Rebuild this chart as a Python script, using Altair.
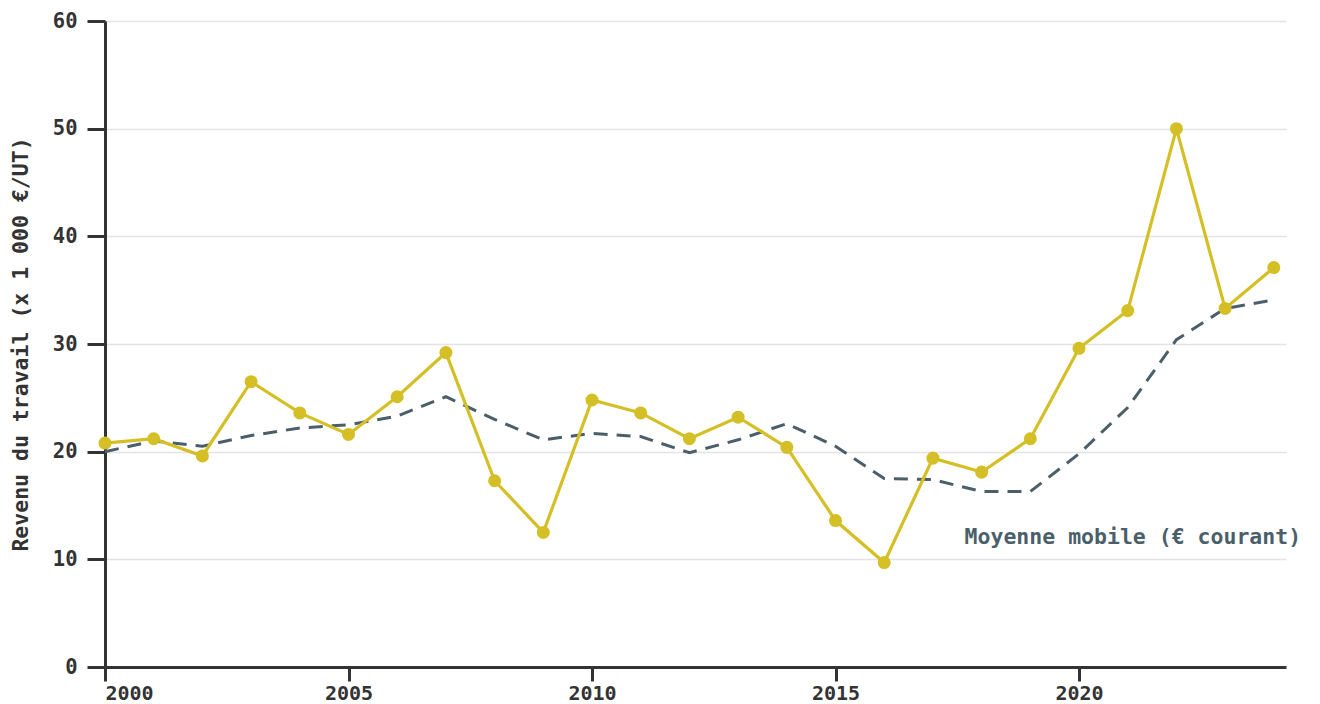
import altair as alt
import pandas as pd

years = list(range(2000, 2025))
revenu = [20.8, 21.2, 19.6, 26.5, 23.6, 21.6, 25.1, 29.2, 17.3, 12.5,
          24.8, 23.6, 21.2, 23.2, 20.4, 13.6, 9.7, 19.4, 18.1, 21.2,
          29.6, 33.1, 50.0, 33.3, 37.1]
moyenne = [20.0, 21.0, 20.5, 21.5, 22.2, 22.5, 23.3, 25.1, 23.0, 21.1,
           21.7, 21.4, 19.9, 21.1, 22.6, 20.5, 17.5, 17.4, 16.3, 16.3,
           19.8, 24.1, 30.4, 33.3, 34.1]
label_text = ["Moyenne mobile (€ courant)"]
label_x = [2017.65]
label_y = [12.0]

df = pd.DataFrame({"annee": years, "revenu": revenu, "moyenne": moyenne})
lab = pd.DataFrame({"t": label_text, "x": label_x, "y": label_y})

FONT = "DejaVu Sans Mono"
YELLOW = "#d5bf26"
SLATE = "#4b5f6b"

xs = alt.Scale(domain=[2000, 2024.25], nice=False, zero=False)
ys = alt.Scale(domain=[0, 60], nice=False)

xaxis = alt.Axis(values=[2000, 2005, 2010, 2015, 2020], format="d", title=None,
                 grid=False, domainColor="#333", domainWidth=3, tickColor="#333",
                 tickWidth=3, tickSize=14, labelPadding=2, labelFont=FONT,
                 labelFontWeight="bold", labelFontSize=20, labelColor="#333")
yaxis = alt.Axis(values=[0, 10, 20, 30, 40, 50, 60], title="Revenu du travail (x 1 000 €/UT)",
                 grid=True, gridColor="#e4e4e4", gridWidth=1.5, domainColor="#333",
                 domainWidth=3, tickColor="#333", tickWidth=3, tickSize=18,
                 labelPadding=10, labelFont=FONT, labelFontWeight="bold",
                 labelFontSize=20.5, labelColor="#333", titleFont=FONT,
                 titleFontWeight="bold", titleFontSize=21.5, titleColor="#333",
                 titlePadding=20)

base = alt.Chart(df)

ma = base.mark_line(color=SLATE, strokeWidth=3, strokeDash=[14, 9]).encode(
    x=alt.X("annee:Q", scale=xs, axis=xaxis),
    y=alt.Y("moyenne:Q", scale=ys, axis=yaxis),
)
line = base.mark_line(color=YELLOW, strokeWidth=3.2).encode(
    x=alt.X("annee:Q", scale=xs),
    y=alt.Y("revenu:Q", scale=ys),
)
pts = base.mark_circle(color=YELLOW, size=170, opacity=1).encode(
    x=alt.X("annee:Q", scale=xs),
    y=alt.Y("revenu:Q", scale=ys),
)
txt = alt.Chart(lab).mark_text(align="left", baseline="middle", font=FONT,
                               fontWeight="bold", fontSize=21.5, color=SLATE).encode(
    x=alt.X("x:Q", scale=xs),
    y=alt.Y("y:Q", scale=ys),
    text="t:N",
)

chart = alt.layer(ma, line, pts, txt).properties(
    width=1181, height=646,
    autosize=alt.AutoSizeParams(type="none"),
    padding={"left": 97, "top": 13, "right": 24, "bottom": 37},
).configure_view(stroke=None)

chart.save("out.html", embed_options={"renderer": "svg", "actions": False})
